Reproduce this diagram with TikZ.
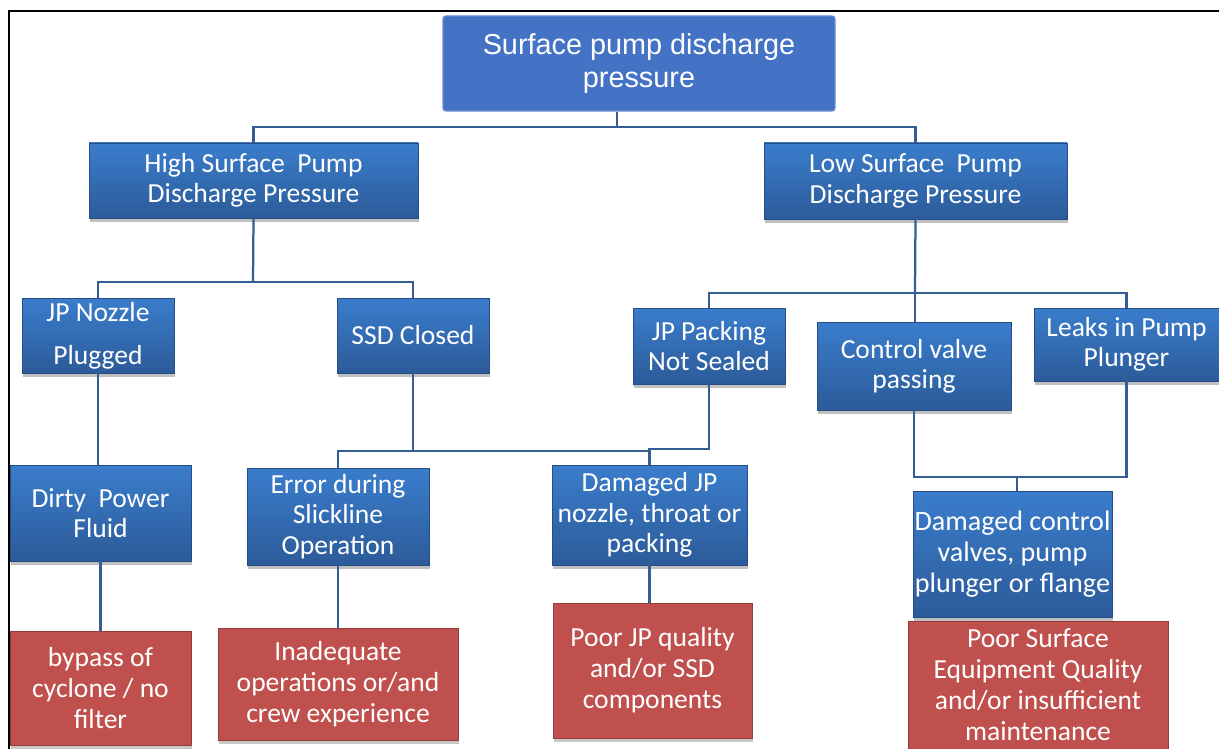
\documentclass[tikz,border=0pt]{standalone}
\usepackage{fontspec}
\setmainfont{Carlito}
\newfontfamily\headfont{Liberation Sans}
\usetikzlibrary{shadows}
\definecolor{topblue}{RGB}{68,114,196}
\definecolor{topedge}{RGB}{105,142,214}
\definecolor{boxtop}{RGB}{58,125,204}
\definecolor{boxbot}{RGB}{44,91,153}
\definecolor{boxedge}{RGB}{38,76,132}
\definecolor{rootred}{RGB}{192,80,77}
\definecolor{rededge}{RGB}{150,60,58}
\definecolor{wire}{RGB}{52,94,148}
\tikzset{
  area/.style n args={4}{at={({(#1+#3)/2},{(#2+#4)/2})},
    minimum width={(#3-#1)*0.025cm},minimum height={(#4-#2)*0.025cm}},
  rootbox/.style={fill=topblue,draw=topedge,line width=0.8pt,rounded corners=2pt,
    inner sep=0pt,text=white,align=center,font=\headfont\fontsize{20.5}{24}\selectfont},
  cause/.style={top color=boxtop,bottom color=boxbot,draw=boxedge,line width=0.5pt,
    inner sep=0pt,text=white,align=center,font=\fontsize{19.6}{21.5}\selectfont,
    drop shadow={shadow xshift=1pt,shadow yshift=-3pt,opacity=0.35,fill=black!70}},
  reason/.style={fill=rootred,draw=rededge,line width=0.5pt,
    inner sep=0pt,text=white,align=center,font=\fontsize{19.6}{22}\selectfont,
    drop shadow={shadow xshift=1pt,shadow yshift=-3pt,opacity=0.3,fill=black!70}},
  wire/.style={draw=wire,line width=1.6pt},
}

\begin{document}
\begin{tikzpicture}[x=0.025cm,y=-0.025cm]
  \useasboundingbox (0,0) rectangle (1219,749);
  \fill[white] (0,0) rectangle (1219,749);
  % frame
  \draw[line width=2pt] (9,749) -- (9,11) -- (1219,11);

  % top
  \node[rootbox,area={443}{16}{835}{111}] (root) {Surface pump discharge\\pressure};
  % second level
  \node[cause,area={89}{143}{418}{218}] (high) {High Surface\ \ Pump\\Discharge Pressure};
  \node[cause,area={764}{143}{1067}{219}] (low) {Low Surface\ \ Pump\\Discharge Pressure};
  % third level
  \node[cause,area={22}{298}{174}{373}] (nozzle) {JP Nozzle\\[9pt]Plugged};
  \node[cause,area={337}{298}{489}{373}] (ssd) {SSD Closed};
  \node[cause,area={633}{308}{785}{384}] (packing) {JP Packing\\Not Sealed};
  \node[cause,area={817}{322}{1011}{410}] (valve) {Control valve\\passing};
  \node[cause,area={1034}{308}{1219}{381}] (leaks) {Leaks in Pump\\Plunger};
  % fourth level
  \node[cause,area={10}{465}{191}{561}] (dirty) {Dirty\ \ Power\\Fluid};
  \node[cause,area={247}{468}{429}{565}] (error) {Error during\\Slickline\\Operation};
  \node[cause,area={552}{465}{747}{565}] (dmgjp) {Damaged JP\\nozzle, throat or\\packing};
  \node[cause,area={913}{491}{1112}{617},font=\fontsize{20}{22}\selectfont] (dmgcv) {Damaged control\\valves, pump\\plunger or flange};
  % root causes
  \node[reason,area={10}{631}{191}{745}] (bypass) {bypass of\\cyclone / no\\filter};
  \node[reason,area={218}{628}{458}{740}] (crew) {Inadequate\\operations or/and\\crew experience};
  \node[reason,area={553}{603}{752}{738}] (poorjp) {Poor JP quality\\and/or SSD\\components};
  \node[reason,area={908}{621}{1168}{749}] (poorsurf) {Poor Surface\\Equipment Quality\\and/or insufficient\\maintenance};

  % connectors
  \coordinate (busA) at (617,127);
  \draw[wire] (root.south -| busA) -- (busA);
  \draw[wire] (high.north) |- (busA) -| (low.north);

  \coordinate (busB) at (253,282);
  \draw[wire] (high.south) -- (busB);
  \draw[wire] (nozzle.north) |- (busB) -| (ssd.north);

  \coordinate (busC) at (915,293);
  \draw[wire] (low.south) -- (busC);
  \draw[wire] (packing.north) |- (busC) -| (leaks.north);
  \draw[wire] (busC) -- (busC |- valve.north);

  \coordinate (busD) at (413,451);
  \draw[wire] (ssd.south) -- (busD);
  \draw[wire] (error.north) |- (busD) -| (dmgjp.north);
  \draw[wire] (packing.south) -- ++(0,65) -| (dmgjp.north);

  \coordinate (busE) at (1017,477);
  \draw[wire] (valve.south) |- (busE);
  \draw[wire] (leaks.south) |- (busE);
  \draw[wire] (busE) -- (busE |- dmgcv.north);

  \draw[wire] (nozzle.south) -- (nozzle.south |- dirty.north);
  \foreach \a/\b in {dirty/bypass,error/crew,dmgjp/poorjp}
    \draw[wire] (\a.south) -- (\a.south |- \b.north);
\end{tikzpicture}
\end{document}
